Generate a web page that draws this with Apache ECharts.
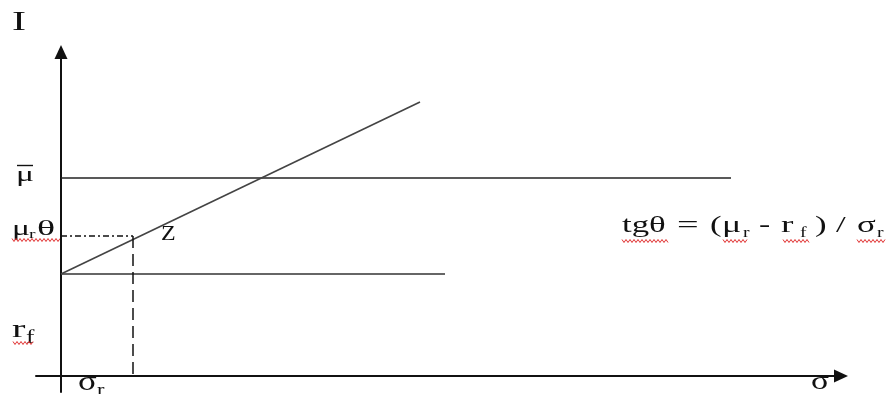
<!DOCTYPE html>
<html><head><meta charset="utf-8">
<script src="https://cdn.jsdelivr.net/npm/echarts@6/dist/echarts.min.js"></script>
<style>html,body{margin:0;padding:0;background:#fff}#c{width:890px;height:394px}</style>
</head><body><div id="c"></div>
<script>
// ---- data (abstract units: sigma on x, expected return on y) ----
const muBar = 198;        // level of mu-bar
const rf = 102;           // risk-free rate
const muR = 140;          // mu_r theta level
const sigmaR = 72;        // sigma_r
const muBarLineEnd = 670; // length of mu-bar line
const rfLineEnd = 384;    // length of rf line
const cmlX = [0, 359];    // capital market line x
const cmlY = [102, 274];  // capital market line y
const xRange = [-25, 780];
const yRange = [-16, 324];

const chart = echarts.init(document.getElementById('c'), null, {renderer: 'canvas'});
const serif = '"Liberation Serif", "DejaVu Serif", serif';
const ink = '#111';

function lineSeries(data, style) {
  return {type: 'line', data: data, symbol: 'none', silent: true, animation: false,
          lineStyle: Object.assign({color: '#333', width: 1.5}, style)};
}

const axisCommon = {
  type: 'value', splitLine: {show: false}, axisTick: {show: false}, axisLabel: {show: false},
  axisLine: {show: true, onZero: true, symbol: ['none', 'triangle'], symbolSize: [13, 14],
             lineStyle: {color: '#111', width: 2}}
};

function squiggle(x0, x1, y) {
  const pts = [];
  for (let x = x0, i = 0; x <= x1; x += 2, i++) pts.push([x, y + (i % 2 ? 1.5 : -1.5)]);
  return {type: 'polyline', shape: {points: pts}, style: {stroke: '#e03030', lineWidth: 1, fill: null}, silent: true};
}

// text piece: left x, baseline y, string, font size, horizontal stretch
function T(x, base, str, size, sx) {
  return {type: 'text', x: x, y: base - 0.28 * size, scaleX: sx || 1.45, silent: true,
    style: {text: str, font: size + 'px ' + serif, fill: ink, align: 'left', verticalAlign: 'middle'}};
}

chart.setOption({
  animation: false,
  grid: {left: 36, right: 49, top: 52, bottom: 2},
  xAxis: Object.assign({}, axisCommon, {min: xRange[0], max: xRange[1]}),
  yAxis: Object.assign({}, axisCommon, {min: yRange[0], max: yRange[1]}),
  series: [
    lineSeries([[0, muBar], [muBarLineEnd, muBar]], {width: 1.6, color: '#222'}),
    lineSeries([[0, rf], [rfLineEnd, rf]], {width: 1.6, color: '#333'}),
    lineSeries([[cmlX[0], cmlY[0]], [cmlX[1], cmlY[1]]], {width: 1.6, color: '#444'}),
    lineSeries([[0, muR], [sigmaR, muR]], {width: 1.3, color: '#111', type: [6, 3, 2, 3]}),
    lineSeries([[sigmaR, muR], [sigmaR, 0]], {width: 1.5, color: '#111', type: [12, 6]})
  ],
  graphic: [
    T(12, 30, 'I', 28, 1.5),
    // mu-bar
    T(16, 181, 'μ', 21, 1.6),
    {type: 'line', shape: {x1: 17, y1: 165.5, x2: 33, y2: 165.5}, style: {stroke: ink, lineWidth: 1.4}, silent: true},
    // mu_r theta
    T(12, 235, 'μ', 21, 1.6),
    T(29, 238, 'r', 13, 1.5),
    T(37, 235, 'θ', 21, 1.8),
    T(161, 240, 'Z', 20, 1.2),
    // r_f
    T(12, 337, 'r', 26, 1.55),
    T(26, 343, 'f', 18, 1.4),
    // sigma_r
    T(78, 390, 'σ', 27, 1.3),
    T(97, 395, 'r', 16, 1.4),
    // sigma axis label
    T(811, 389, 'σ', 26, 1.3),
    // formula
    T(622, 232, 'tgθ', 24, 1.45),
    T(677, 232, '=', 24, 1.6),
    T(710, 232, '(', 24, 1.45),
    T(722, 232, 'μ', 24, 1.5),
    T(743, 237, 'r', 14, 1.4),
    T(759, 232, '-', 24, 1.4),
    T(781, 232, 'r', 24, 1.55),
    T(800, 237, 'f', 14, 1.4),
    T(815, 232, ')', 24, 1.45),
    T(836, 232, '/', 24, 1.45),
    T(857, 232, 'σ', 24, 1.45),
    T(877, 237, 'r', 14, 1.4),
    squiggle(12, 60, 240),
    squiggle(13, 33, 343),
    squiggle(622, 668, 241),
    squiggle(723, 748, 241),
    squiggle(783, 810, 241),
    squiggle(857, 885, 241)
  ]
});
</script></body></html>
